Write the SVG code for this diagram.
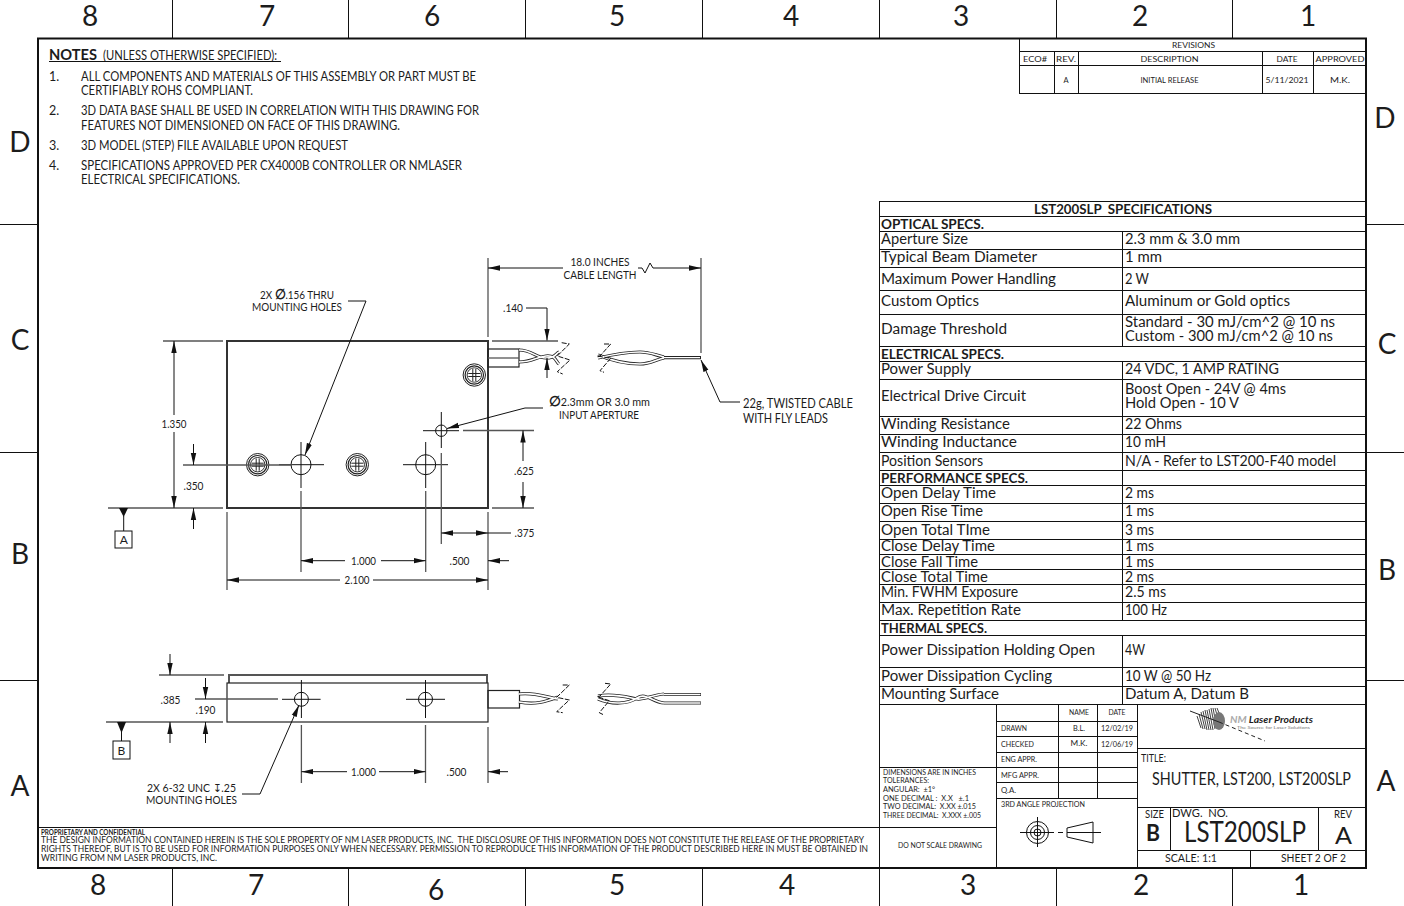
<svg xmlns="http://www.w3.org/2000/svg" width="1404" height="906" viewBox="0 0 1404 906">
<style>
text{font-family:"Lato","Liberation Sans",sans-serif;fill:#1c1c1c;white-space:pre}
.b{font-weight:700}
.z{font-size:28px;text-anchor:middle}
.s{font-size:14.5px}
.h{font-size:14px;font-weight:700}
.n{font-size:12.5px}
.d{font-size:11px;text-anchor:middle}
.m{font-size:7.5px}
.c{font-size:7.5px;text-anchor:middle}
.p{font-size:9px}
.k{fill:none;stroke:#111;stroke-width:1}
.g{fill:none;stroke:#222;stroke-width:1.2}
.e{fill:none;stroke:#555;stroke-width:1.3}
.o{fill:none;stroke:#333;stroke-width:2}
.a{fill:none;stroke:#111;stroke-width:1}
.q{fill:none;stroke:#111;stroke-width:1;stroke-dasharray:5 1.5}
.w1{fill:none;stroke:#222;stroke-width:3.2}
.w2{fill:none;stroke:#fff;stroke-width:1.6}
</style>
<defs>
<marker id="ar" markerUnits="userSpaceOnUse" markerWidth="13" markerHeight="7" refX="12" refY="3.5" orient="auto"><path d="M0 0.8L12 3.5L0 6.2z" fill="#111"/></marker>
<g id="sc"><circle r="11.2" fill="none" stroke="#222" stroke-width="1"/><circle r="9.2" fill="none" stroke="#222" stroke-width="1.2"/><circle r="7.2" fill="none" stroke="#333" stroke-width="1"/><path d="M-6-1.5H6M-6 1.5H6M-1.5-6V6M1.5-6V6" stroke="#222" stroke-width="1" fill="none"/></g>
<g id="w-top"><path d="M519 350C532 350 536 358 546 358S556 353 559 352M519 362C532 362 536 357 546 356S556 362 559 364M598 355C615 362 630 364 640 364S655 360 664 358M598 358C615 354 630 352 640 352S655 355 664 357"/></g>
<g id="w-side"><path d="M519 694C535 692 545 697 558 699M519 702C535 705 545 702 558 697M598 696C615 693 630 698 637 699S652 695 664 694M598 699C612 705 628 704 637 698S652 702 664 703"/></g>
</defs>
<rect width="1404" height="906" fill="#fff"/>
<g id="sheet-frame">
<rect x="38" y="38.5" width="1328" height="829.5" fill="none" stroke="#111" stroke-width="2"/>
<path class="k" d="M172.500 0V38M348.500 0V38M525.500 0V38M702.500 0V38M879.500 0V38M1056.500 0V38M1232.500 0V38M172.500 868V906M348.500 868V906M525.500 868V906M702.500 868V906M879.500 868V906M1056.500 868V906M1232.500 868V906M0 224.500H38M0 452.500H38M0 680.500H38M1366 224.500H1404M1366 452.500H1404M1366 680.500H1404"/>
<text class="z" x="90" y="26">8</text><text class="z" x="267" y="26">7</text><text class="z" x="432" y="26">6</text><text class="z" x="617" y="26">5</text><text class="z" x="791" y="26">4</text><text class="z" x="961" y="26">3</text><text class="z" x="1140" y="26">2</text><text class="z" x="1308" y="26">1</text>
<text class="z" x="98" y="895">8</text><text class="z" x="256" y="895">7</text><text class="z" x="436" y="900">6</text><text class="z" x="617" y="895">5</text><text class="z" x="787" y="895">4</text><text class="z" x="968" y="895">3</text><text class="z" x="1141" y="895">2</text><text class="z" x="1301" y="895">1</text>
<text class="z" x="20" y="152">D</text><text class="z" x="20" y="350">C</text><text class="z" x="20" y="564">B</text><text class="z" x="20" y="796">A</text>
<text class="z" x="1385" y="128">D</text><text class="z" x="1387" y="354">C</text><text class="z" x="1387" y="580">B</text><text class="z" x="1386" y="791">A</text>
</g>
<g id="notes">
<text class="b" x="49" y="60" font-size="16" textLength="48" lengthAdjust="spacingAndGlyphs">NOTES</text>
<text x="103" y="60" font-size="12.5" textLength="174" lengthAdjust="spacingAndGlyphs">(UNLESS OTHERWISE SPECIFIED):</text>
<path d="M49 61.500H281" stroke="#111" stroke-width="1"/>
<text class="n" x="49" y="81">1.</text><text class="n" x="81" y="81" textLength="395" lengthAdjust="spacingAndGlyphs">ALL COMPONENTS AND MATERIALS OF THIS ASSEMBLY OR PART MUST BE</text>
<text class="n" x="81" y="95" textLength="172" lengthAdjust="spacingAndGlyphs">CERTIFIABLY ROHS COMPLIANT.</text>
<text class="n" x="49" y="115">2.</text><text class="n" x="81" y="115" textLength="398" lengthAdjust="spacingAndGlyphs">3D DATA BASE SHALL BE USED IN CORRELATION WITH THIS DRAWING FOR</text>
<text class="n" x="81" y="130" textLength="319" lengthAdjust="spacingAndGlyphs">FEATURES NOT DIMENSIONED ON FACE OF THIS DRAWING.</text>
<text class="n" x="49" y="150">3.</text><text class="n" x="81" y="150" textLength="267" lengthAdjust="spacingAndGlyphs">3D MODEL (STEP) FILE AVAILABLE UPON REQUEST</text>
<text class="n" x="49" y="170">4.</text><text class="n" x="81" y="170" textLength="381" lengthAdjust="spacingAndGlyphs">SPECIFICATIONS APPROVED PER CX4000B CONTROLLER OR NMLASER</text>
<text class="n" x="81" y="184" textLength="159" lengthAdjust="spacingAndGlyphs">ELECTRICAL SPECIFICATIONS.</text>
</g>
<g id="revisions">
<path class="k" d="M1019.500 38V94M1019 51.500H1366M1019 65.500H1366M1019 93.500H1366M1054.500 51V94M1078.500 51V94M1262.500 51V94M1313.500 51V94"/>
<text class="c" x="1193.500" y="48" textLength="43" lengthAdjust="spacingAndGlyphs">REVISIONS</text>
<text class="c" x="1035" y="62" textLength="24" lengthAdjust="spacingAndGlyphs">ECO#</text><text class="c" x="1066" y="62" textLength="20" lengthAdjust="spacingAndGlyphs">REV.</text><text class="c" x="1169.500" y="62" textLength="58" lengthAdjust="spacingAndGlyphs">DESCRIPTION</text><text class="c" x="1287" y="62" textLength="21" lengthAdjust="spacingAndGlyphs">DATE</text><text class="c" x="1340" y="62" textLength="49" lengthAdjust="spacingAndGlyphs">APPROVED</text>
<text class="c" x="1066" y="83">A</text><text class="c" x="1169.500" y="83" textLength="58" lengthAdjust="spacingAndGlyphs">INITIAL RELEASE</text><text class="c" x="1287" y="83" textLength="43" lengthAdjust="spacingAndGlyphs">5/11/2021</text><text class="c" x="1340" y="83" textLength="20" lengthAdjust="spacingAndGlyphs">M.K.</text>
</g>
<g id="spec-table">
<path class="k" d="M879.500 201V704M1365.500 201V704M879 201.500H1366M879 216.500H1366M879 231.500H1366M879 249.500H1366M879 267.500H1366M879 290.500H1366M879 314.500H1366M879 346.500H1366M879 361.500H1366M879 379.500H1366M879 416.500H1366M879 434.500H1366M879 452.500H1366M879 470.500H1366M879 485.500H1366M879 503.500H1366M879 521.500H1366M879 539.500H1366M879 554.500H1366M879 569.500H1366M879 584.500H1366M879 602.500H1366M879 620.500H1366M879 635.500H1366M879 667.500H1366M879 686.500H1366M879 704.500H1366M1122.500 231V346M1122.500 361V620M1122.500 635V704"/>
<text class="h" x="1034" y="214" font-size="13" style="font-size:13px" textLength="178" lengthAdjust="spacingAndGlyphs">LST200SLP  SPECIFICATIONS</text>
<text class="h" x="881" y="229" textLength="103" lengthAdjust="spacingAndGlyphs">OPTICAL SPECS.</text>
<text class="s" x="881" y="244" textLength="87" lengthAdjust="spacingAndGlyphs">Aperture Size</text><text class="s" x="1125" y="244" textLength="115" lengthAdjust="spacingAndGlyphs">2.3 mm &amp; 3.0 mm</text>
<text class="s" x="881" y="262" textLength="156" lengthAdjust="spacingAndGlyphs">Typical Beam Diameter</text><text class="s" x="1125" y="262" textLength="37" lengthAdjust="spacingAndGlyphs">1 mm</text>
<text class="s" x="881" y="284" textLength="175" lengthAdjust="spacingAndGlyphs">Maximum Power Handling</text><text class="s" x="1125" y="284" textLength="24" lengthAdjust="spacingAndGlyphs">2 W</text>
<text class="s" x="881" y="306" textLength="98" lengthAdjust="spacingAndGlyphs">Custom Optics</text><text class="s" x="1125" y="306" textLength="165" lengthAdjust="spacingAndGlyphs">Aluminum or Gold optics</text>
<text class="s" x="881" y="334" textLength="126" lengthAdjust="spacingAndGlyphs">Damage Threshold</text><text class="s" x="1125" y="327" textLength="210" lengthAdjust="spacingAndGlyphs">Standard - 30 mJ/cm^2 @ 10 ns</text><text class="s" x="1125" y="341" textLength="208" lengthAdjust="spacingAndGlyphs">Custom - 300 mJ/cm^2 @ 10 ns</text>
<text class="h" x="881" y="359" textLength="123" lengthAdjust="spacingAndGlyphs">ELECTRICAL SPECS.</text>
<text class="s" x="881" y="374" textLength="90" lengthAdjust="spacingAndGlyphs">Power Supply</text><text class="s" x="1125" y="374" textLength="154" lengthAdjust="spacingAndGlyphs">24 VDC, 1 AMP RATING</text>
<text class="s" x="881" y="401" textLength="145" lengthAdjust="spacingAndGlyphs">Electrical Drive Circuit</text><text class="s" x="1125" y="394" textLength="161" lengthAdjust="spacingAndGlyphs">Boost Open - 24V @ 4ms</text><text class="s" x="1125" y="408" textLength="114" lengthAdjust="spacingAndGlyphs">Hold Open - 10 V</text>
<text class="s" x="881" y="429" textLength="129" lengthAdjust="spacingAndGlyphs">Winding Resistance</text><text class="s" x="1125" y="429" textLength="57" lengthAdjust="spacingAndGlyphs">22 Ohms</text>
<text class="s" x="881" y="447" textLength="136" lengthAdjust="spacingAndGlyphs">Winding Inductance</text><text class="s" x="1125" y="447" textLength="41" lengthAdjust="spacingAndGlyphs">10 mH</text>
<text class="s" x="881" y="466" textLength="102" lengthAdjust="spacingAndGlyphs">Position Sensors</text><text class="s" x="1125" y="466" textLength="211" lengthAdjust="spacingAndGlyphs">N/A - Refer to LST200-F40 model</text>
<text class="h" x="881" y="483" textLength="147" lengthAdjust="spacingAndGlyphs">PERFORMANCE SPECS.</text>
<text class="s" x="881" y="498" textLength="115" lengthAdjust="spacingAndGlyphs">Open Delay Time</text><text class="s" x="1125" y="498" textLength="29" lengthAdjust="spacingAndGlyphs">2 ms</text>
<text class="s" x="881" y="516" textLength="102" lengthAdjust="spacingAndGlyphs">Open Rise Time</text><text class="s" x="1125" y="516" textLength="29" lengthAdjust="spacingAndGlyphs">1 ms</text>
<text class="s" x="881" y="535" textLength="109" lengthAdjust="spacingAndGlyphs">Open Total TIme</text><text class="s" x="1125" y="535" textLength="29" lengthAdjust="spacingAndGlyphs">3 ms</text>
<text class="s" x="881" y="551" textLength="114" lengthAdjust="spacingAndGlyphs">Close Delay Time</text><text class="s" x="1125" y="551" textLength="29" lengthAdjust="spacingAndGlyphs">1 ms</text>
<text class="s" x="881" y="567" textLength="97" lengthAdjust="spacingAndGlyphs">Close Fall Time</text><text class="s" x="1125" y="567" textLength="29" lengthAdjust="spacingAndGlyphs">1 ms</text>
<text class="s" x="881" y="582" textLength="107" lengthAdjust="spacingAndGlyphs">Close Total Time</text><text class="s" x="1125" y="582" textLength="29" lengthAdjust="spacingAndGlyphs">2 ms</text>
<text class="s" x="881" y="597" textLength="137" lengthAdjust="spacingAndGlyphs">Min. FWHM Exposure</text><text class="s" x="1125" y="597" textLength="41" lengthAdjust="spacingAndGlyphs">2.5 ms</text>
<text class="s" x="881" y="615" textLength="140" lengthAdjust="spacingAndGlyphs">Max. Repetition Rate</text><text class="s" x="1125" y="615" textLength="42" lengthAdjust="spacingAndGlyphs">100 Hz</text>
<text class="h" x="881" y="633" textLength="106" lengthAdjust="spacingAndGlyphs">THERMAL SPECS.</text>
<text class="s" x="881" y="655" textLength="214" lengthAdjust="spacingAndGlyphs">Power Dissipation Holding Open</text><text class="s" x="1125" y="655" textLength="20" lengthAdjust="spacingAndGlyphs">4W</text>
<text class="s" x="881" y="681" textLength="171" lengthAdjust="spacingAndGlyphs">Power Dissipation Cycling</text><text class="s" x="1125" y="681" textLength="86" lengthAdjust="spacingAndGlyphs">10 W @ 50 Hz</text>
<text class="s" x="881" y="699" textLength="118" lengthAdjust="spacingAndGlyphs">Mounting Surface</text><text class="s" x="1125" y="699" textLength="124" lengthAdjust="spacingAndGlyphs">Datum A, Datum B</text>
</g>
<g id="top-view">
<rect class="o" x="227" y="341" width="261" height="167"/>
<use href="#sc" x="257.700" y="464.700"/><use href="#sc" x="357.300" y="464.700"/><use href="#sc" x="474.300" y="375"/>
<circle class="k" cx="301" cy="464.700" r="10"/><circle class="k" cx="425.700" cy="464.700" r="10"/><circle class="k" cx="441.300" cy="430.700" r="5.700"/>
<path class="k" d="M279 464.700H324M301 442V488M403 464.700H448M425.700 442V488M423 430.700H459M441.300 412V448"/>
<rect class="g" x="488" y="349" width="31" height="18"/><path class="e" d="M488 358H519"/>
<use href="#w-top" class="w1"/><use href="#w-top" class="w2"/>
<path class="w1" d="M664 357.700H701"/><path class="w2" d="M664 357.700H700" style="stroke-width:1.200px"/>
<path class="q" d="M561.700 342.700L569.300 344L557.300 356L570 360L557.300 371.700L562.700 374M604 344L610.700 344L600 356H597.300L610.700 358.300L600 370.700L604 372.300"/>
</g>
<g id="side-view">
<path class="e" style="stroke-width:2px" d="M229 683V675H487V683"/>
<rect class="g" x="227" y="683" width="261" height="39"/>
<circle class="k" cx="301.400" cy="699.300" r="7"/><circle class="k" cx="425.500" cy="699.300" r="7"/>
<path class="k" d="M282 699.300H320.600M301.400 680V718M406 699.300H445M425.500 680V718"/>
<rect class="g" x="488" y="690.500" width="31.500" height="17.500"/>
<use href="#w-side" class="w1"/><use href="#w-side" class="w2"/>
<path class="w1" d="M664 694.500H701M664 703H701"/><path class="w2" d="M664 694.500H700.500M664 703H700.500"/>
<path class="q" d="M562.700 685L569.300 685L556.700 697.300L569.300 700L556.700 711.700L562.700 712.700M605 683.300L610.700 684L600 696L597.300 696.700L609.300 700.700L599.300 712.700L604 715"/>
</g>
<g id="connectors">
<path class="e" d="M163 341H223M108 508H223M492 341H558M492 508H534M463 430.500H534M183 465H292M227 512V590M488 512V590M488 258V337M701 258V353M301 491V572M425.700 491V572M441.300 453V544"/>
<path class="a" d="M174 415V341" marker-end="url(#ar)"/><path class="a" d="M174 432V508" marker-end="url(#ar)"/>
<path class="a" d="M193.500 444V465" marker-end="url(#ar)"/><path class="a" d="M193.500 529V508" marker-end="url(#ar)"/>
<path class="a" d="M348 301H366L305 455" marker-end="url(#ar)"/>
<path class="a" d="M543 408H525L447 428.500" marker-end="url(#ar)"/>
<path class="a" d="M345 560.700H301" marker-end="url(#ar)"/><path class="a" d="M381 560.700H425.700" marker-end="url(#ar)"/>
<path class="a" d="M509 560.700H488" marker-end="url(#ar)"/>
<path class="a" d="M340 580H227" marker-end="url(#ar)"/><path class="a" d="M373 580H488" marker-end="url(#ar)"/>
<path class="a" d="M465 533H441.300" marker-end="url(#ar)"/><path class="a" d="M465 533H488" marker-end="url(#ar)"/><path class="a" d="M488 533H511"/>
<path class="a" d="M523 461V430.500" marker-end="url(#ar)"/><path class="a" d="M523 482V508" marker-end="url(#ar)"/>
<path class="a" d="M563 268H488" marker-end="url(#ar)"/><path class="a" d="M638 268H642L645 273L650 263L653 268H701" marker-end="url(#ar)"/>
<path class="a" d="M526 308H547V340.500" marker-end="url(#ar)"/><path class="a" d="M547 378V358" marker-end="url(#ar)"/>
<path class="a" d="M740 402H720L701 360" marker-end="url(#ar)"/>
<path class="e" d="M159 675H224M106 722H223M195 699H278M301.400 725V783M425.500 725V783M488 727V783"/>
<path class="a" d="M170 654V675" marker-end="url(#ar)"/><path class="a" d="M170 743V722" marker-end="url(#ar)"/>
<path class="a" d="M205.500 678V699" marker-end="url(#ar)"/><path class="a" d="M205.500 743V722" marker-end="url(#ar)"/>
<path class="a" d="M347 771.700H301.400" marker-end="url(#ar)"/><path class="a" d="M379 771.700H425.500" marker-end="url(#ar)"/>
<path class="a" d="M508 771.700H488" marker-end="url(#ar)"/>
<path class="a" d="M242 794H260L299 705" marker-end="url(#ar)"/>
</g>
<g id="datum-a"><path d="M119 508H128L123.700 517z" fill="#111"/><path class="k" d="M123.700 516V531"/><rect class="k" x="115" y="531" width="17" height="17"/><text class="d" x="123.700" y="544" style="font-size:12px">A</text></g>
<g id="datum-b"><path d="M117 722H126L121.500 733z" fill="#111"/><path class="k" d="M121.500 732V741"/><rect class="k" x="113" y="741" width="17" height="18"/><text class="d" x="121.500" y="755" style="font-size:12px">B</text></g>
<g id="dim-labels">
<text class="d" x="174" y="428" textLength="25" lengthAdjust="spacingAndGlyphs">1.350</text>
<text class="d" x="193.500" y="490" textLength="20" lengthAdjust="spacingAndGlyphs">.350</text>
<text class="d" x="363.500" y="565" textLength="25" lengthAdjust="spacingAndGlyphs">1.000</text>
<text class="d" x="459.500" y="565" textLength="20" lengthAdjust="spacingAndGlyphs">.500</text>
<text class="d" x="357" y="584" textLength="25" lengthAdjust="spacingAndGlyphs">2.100</text>
<text class="d" x="524.500" y="537" textLength="20" lengthAdjust="spacingAndGlyphs">.375</text>
<text class="d" x="524" y="475" textLength="20" lengthAdjust="spacingAndGlyphs">.625</text>
<text class="d" x="513" y="312" textLength="20" lengthAdjust="spacingAndGlyphs">.140</text>
<text class="d" x="600" y="266" textLength="59" lengthAdjust="spacingAndGlyphs">18.0 INCHES</text>
<text class="d" x="600" y="279" textLength="73" lengthAdjust="spacingAndGlyphs">CABLE LENGTH</text>
<text class="d" x="297" y="299" textLength="74" lengthAdjust="spacingAndGlyphs">2X <tspan class="b" style="font-size:14px">∅</tspan>.156 THRU</text>
<text class="d" x="297" y="311" textLength="90" lengthAdjust="spacingAndGlyphs">MOUNTING HOLES</text>
<text class="d" x="599.500" y="406" textLength="101" lengthAdjust="spacingAndGlyphs"><tspan class="b" style="font-size:14px">∅</tspan>2.3mm OR 3.0 mm</text>
<text class="d" x="599" y="419" textLength="80" lengthAdjust="spacingAndGlyphs">INPUT APERTURE</text>
<text x="743" y="408" font-size="13" textLength="110" lengthAdjust="spacingAndGlyphs">22g, TWISTED CABLE</text>
<text x="743" y="423" font-size="13" textLength="85" lengthAdjust="spacingAndGlyphs">WITH FLY LEADS</text>
<text class="d" x="170.500" y="704" textLength="20" lengthAdjust="spacingAndGlyphs">.385</text>
<text class="d" x="205.500" y="714" textLength="20" lengthAdjust="spacingAndGlyphs">.190</text>
<text class="d" x="363.500" y="776" textLength="25" lengthAdjust="spacingAndGlyphs">1.000</text>
<text class="d" x="456.500" y="776" textLength="20" lengthAdjust="spacingAndGlyphs">.500</text>
<text class="d" x="191.500" y="792" textLength="89" lengthAdjust="spacingAndGlyphs">2X 6-32 UNC ↧.25</text>
<text class="d" x="191.500" y="804" textLength="91" lengthAdjust="spacingAndGlyphs">MOUNTING HOLES</text>
</g>
<g id="proprietary">
<path d="M38 827.500H879" stroke="#111" stroke-width="1"/>
<text class="b" x="41" y="834.500" font-size="6.500" textLength="104" lengthAdjust="spacingAndGlyphs">PROPRIETARY AND CONFIDENTIAL</text>
<text class="p" x="41" y="843" textLength="823" lengthAdjust="spacingAndGlyphs">THE DESIGN INFORMATION CONTAINED HEREIN IS THE SOLE PROPERTY OF NM LASER PRODUCTS, INC.  THE DISCLOSURE OF THIS INFORMATION DOES NOT CONSTITUTE THE RELEASE OF THE PROPRIETARY</text>
<text class="p" x="41" y="852" textLength="827" lengthAdjust="spacingAndGlyphs">RIGHTS THEREOF, BUT IS TO BE USED FOR INFORMATION PURPOSES ONLY WHEN NECESSARY. PERMISSION TO REPRODUCE THIS INFORMATION OF THE PRODUCT DESCRIBED HERE IN MUST BE OBTAINED IN</text>
<text class="p" x="41" y="861" textLength="176" lengthAdjust="spacingAndGlyphs">WRITING FROM NM LASER PRODUCTS, INC.</text>
</g>
<g id="title-block">
<path class="k" d="M879.500 704V868M996.500 704V868M1058.500 704V798M1097.500 704V798M1137.500 704V868M996 721.500H1137M996 736.500H1137M996 752.500H1137M879 767.500H1137M996 782.500H1137M996 798.500H1137M879 827.500H996M1137 748.500H1366M1137 807.500H1366M1137 850.500H1366M1170.500 807V850M1318.500 807V850M1250.500 850V868"/>
<text class="c" x="1079" y="715" textLength="20" lengthAdjust="spacingAndGlyphs">NAME</text><text class="c" x="1117" y="715" textLength="17" lengthAdjust="spacingAndGlyphs">DATE</text>
<text class="m" x="1001" y="731" textLength="26" lengthAdjust="spacingAndGlyphs">DRAWN</text><text class="c" x="1079" y="731" textLength="12" lengthAdjust="spacingAndGlyphs">B.L.</text><text class="c" x="1117" y="731" textLength="32" lengthAdjust="spacingAndGlyphs">12/02/19</text>
<text class="m" x="1001" y="747" textLength="33" lengthAdjust="spacingAndGlyphs">CHECKED</text><text class="c" x="1079" y="746" textLength="17" lengthAdjust="spacingAndGlyphs">M.K.</text><text class="c" x="1117" y="747" textLength="32" lengthAdjust="spacingAndGlyphs">12/06/19</text>
<text class="m" x="1001" y="762" textLength="36" lengthAdjust="spacingAndGlyphs">ENG APPR.</text><text class="m" x="1001" y="778" textLength="38" lengthAdjust="spacingAndGlyphs">MFG APPR.</text><text class="m" x="1001" y="793" textLength="15" lengthAdjust="spacingAndGlyphs">Q.A.</text>
<text class="m" x="1001" y="807" textLength="84" lengthAdjust="spacingAndGlyphs">3RD ANGLE PROJECTION</text>
<text class="m" x="883" y="775" textLength="93" lengthAdjust="spacingAndGlyphs">DIMENSIONS ARE IN INCHES</text>
<text class="m" x="883" y="783" textLength="46" lengthAdjust="spacingAndGlyphs">TOLERANCES:</text>
<text class="m" x="883" y="792" textLength="52" lengthAdjust="spacingAndGlyphs">ANGULAR:  ±1°</text>
<text class="m" x="883" y="801" textLength="86" lengthAdjust="spacingAndGlyphs">ONE DECIMAL :  X.X   ±.1</text>
<text class="m" x="883" y="809" textLength="93" lengthAdjust="spacingAndGlyphs">TWO DECIMAL:  X.XX ±.015</text>
<text class="m" x="883" y="818" textLength="98" lengthAdjust="spacingAndGlyphs">THREE DECIMAL:  X.XXX ±.005</text>
<text class="m" x="898" y="848" textLength="84" lengthAdjust="spacingAndGlyphs">DO NOT SCALE DRAWING</text>
<g id="projection-symbol" class="k"><circle cx="1037.500" cy="832.500" r="11"/><circle cx="1037.500" cy="832.500" r="7"/><circle cx="1037.500" cy="832.500" r="3.500"/><path d="M1020 832.500H1054M1037.500 817V847M1058 832.500H1063M1067 828L1093 822V843L1067 837ZM1067 832.500H1101"/></g>
<text x="1141" y="762" font-size="11.500" textLength="25" lengthAdjust="spacingAndGlyphs">TITLE:</text>
<text x="1152" y="785" font-size="17" textLength="199" lengthAdjust="spacingAndGlyphs">SHUTTER, LST200, LST200SLP</text>
<text x="1145" y="818" font-size="11" textLength="19" lengthAdjust="spacingAndGlyphs">SIZE</text>
<text class="b" x="1146" y="841" font-size="22" textLength="14" lengthAdjust="spacingAndGlyphs">B</text>
<text x="1172" y="817" font-size="12" textLength="56" lengthAdjust="spacingAndGlyphs">DWG.  NO.</text>
<text x="1184" y="842" font-size="28" textLength="122" lengthAdjust="spacingAndGlyphs">LST200SLP</text>
<text x="1334" y="818" font-size="11" textLength="18" lengthAdjust="spacingAndGlyphs">REV</text>
<text x="1335" y="844" font-size="23" textLength="17" lengthAdjust="spacingAndGlyphs">A</text>
<text x="1165" y="862" font-size="12" textLength="52" lengthAdjust="spacingAndGlyphs">SCALE: 1:1</text>
<text x="1281" y="862" font-size="12" textLength="65" lengthAdjust="spacingAndGlyphs">SHEET 2 OF 2</text>
</g>
<g id="logo">
<path d="M1197 716L1201 728M1199 714L1203 729M1201 712L1205 729M1203 711L1207 730M1205 710L1209 730M1207 710L1211 730M1209 709L1213 730M1211 708L1215 729M1213 708L1217 729M1215 708L1219 722M1217 708L1221 718" stroke="#444" stroke-width="1" fill="none"/>
<ellipse cx="1219" cy="721" rx="6" ry="9" fill="#777"/>
<path d="M1190 711L1219 722" stroke="#222" stroke-width="1" fill="none"/><path d="M1219 722L1265 741" stroke="#222" stroke-width="1" stroke-dasharray="4 3" fill="none"/>
<text class="b" x="1230" y="722.500" font-size="10" font-style="italic" textLength="83" lengthAdjust="spacingAndGlyphs"><tspan style="fill:#aaa">NM</tspan> Laser Products</text>
<text x="1237" y="729" font-size="4.500" style="fill:#777" textLength="73" lengthAdjust="spacingAndGlyphs">The Source for Laser Solutions</text>
</g>
</svg>
